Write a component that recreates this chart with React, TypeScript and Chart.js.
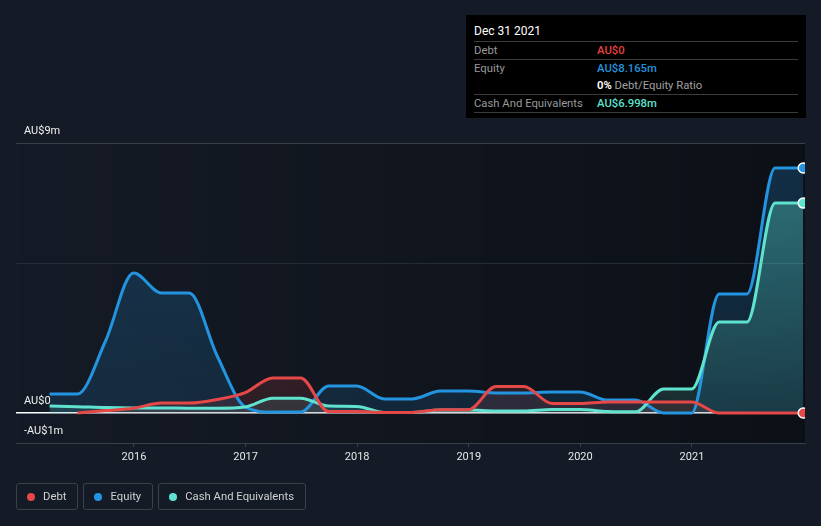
import React, { useEffect, useRef } from 'react';
import { Chart, registerables } from 'chart.js';

Chart.register(...registerables);

const dates = [
  '2015-03-31', '2015-06-30', '2015-09-30', '2015-12-31',
  '2016-03-31', '2016-06-30', '2016-09-30', '2016-12-31',
  '2017-03-31', '2017-06-30', '2017-09-30', '2017-12-31',
  '2018-03-31', '2018-06-30', '2018-09-30', '2018-12-31',
  '2019-03-31', '2019-06-30', '2019-09-30', '2019-12-31',
  '2020-03-31', '2020-06-30', '2020-09-30', '2020-12-31',
  '2021-03-31', '2021-06-30', '2021-09-30', '2021-12-31',
];
const debt: (number | null)[] = [
  null, 0, 0.08, 0.16, 0.33, 0.33, 0.45, 0.68, 1.17, 1.17, 0.05, 0.05, 0.02, 0.02,
  0.11, 0.11, 0.88, 0.88, 0.32, 0.32, 0.37, 0.37, 0.37, 0.37, 0, 0, 0, 0,
];
const equity = [
  0.63, 0.63, 2.4, 4.67, 4.0, 4.0, 1.9, 0.2, 0.03, 0.03, 0.9, 0.9, 0.47, 0.47,
  0.73, 0.73, 0.67, 0.67, 0.7, 0.7, 0.43, 0.43, 0, 0, 3.97, 3.97, 8.165, 8.165,
];
const cash = [
  0.23, 0.21, 0.18, 0.17, 0.17, 0.16, 0.16, 0.2, 0.49, 0.49, 0.23, 0.22, 0.02, 0.02,
  0.1, 0.1, 0.07, 0.07, 0.12, 0.12, 0.05, 0.04, 0.8, 0.8, 3.03, 3.03, 6.998, 6.998,
];
const yTicks = [-1, 0, 5, 9];
const yTickLabels: Record<number, string> = { '-1': '-AU$1m', 0: 'AU$0', 9: 'AU$9m' } as any;
const xTicks = [2016, 2017, 2018, 2019, 2020, 2021];

const COLORS = {
  debt: '#e64848',
  equity: '#2394df',
  cash: '#5fe3ce',
};

function toYear(d: string): number {
  const [y, m, dd] = d.split('-').map(Number);
  const start = Date.UTC(y, 0, 1);
  const end = Date.UTC(y + 1, 0, 1);
  return y + (Date.UTC(y, m - 1, dd) - start) / (end - start);
}

function gradientFill(rgb: string, top: number, bottom: number) {
  return (ctx: any) => {
    const chart = ctx.chart;
    const area = chart.chartArea;
    if (!area) return `rgba(${rgb},${bottom})`;
    const yZero = chart.scales.y.getPixelForValue(0);
    const g = chart.ctx.createLinearGradient(0, area.top, 0, yZero);
    g.addColorStop(0, `rgba(${rgb},${top})`);
    g.addColorStop(1, `rgba(${rgb},${bottom})`);
    return g;
  };
}

const plotBg = {
  id: 'plotBg',
  beforeDraw(chart: any) {
    const { ctx, chartArea } = chart;
    if (!chartArea) return;
    const g = ctx.createLinearGradient(chartArea.left, 0, chartArea.right, 0);
    g.addColorStop(0, 'rgba(0,0,0,0)');
    g.addColorStop(1, 'rgba(0,0,0,0.4)');
    ctx.save();
    ctx.fillStyle = g;
    ctx.fillRect(chartArea.left, chartArea.top, chartArea.right - chartArea.left, chartArea.bottom - chartArea.top);
    ctx.restore();
  },
};

function makeDataset(label: string, values: (number | null)[], color: string, rgb: string, top: number, bottom: number) {
  const last = values.length - 1;
  return {
    label,
    data: values.map((v, i) => ({ x: toYear(dates[i]), y: v })),
    borderColor: color,
    borderWidth: 3,
    backgroundColor: gradientFill(rgb, top, bottom),
    fill: 'origin',
    cubicInterpolationMode: 'monotone' as const,
    spanGaps: false,
    pointRadius: values.map((_, i) => (i === last ? 5 : 0)),
    pointHoverRadius: 0,
    pointBackgroundColor: color,
    pointBorderColor: '#ffffff',
    pointBorderWidth: 1.5,
  };
}

export default function App() {
  const canvasRef = useRef<HTMLCanvasElement | null>(null);

  useEffect(() => {
    if (!canvasRef.current) return;
    const chart = new Chart(canvasRef.current, {
      type: 'line',
      data: {
        datasets: [
          makeDataset('Debt', debt, COLORS.debt, '230,72,72', 0.35, 0.12),
          makeDataset('Cash And Equivalents', cash, COLORS.cash, '95,227,206', 0.4, 0.12),
          makeDataset('Equity', equity, COLORS.equity, '35,148,223', 0.24, 0.14),
        ] as any,
      },
      options: {
        animation: false,
        responsive: false,
        maintainAspectRatio: false,
        events: [],
        layout: { padding: { top: 143, left: 16, right: 16, bottom: 53 } },
        plugins: {
          legend: { display: false },
          tooltip: { enabled: false },
          filler: { drawTime: 'beforeDatasetsDraw' } as any,
        },
        scales: {
          x: {
            type: 'linear',
            min: 2014.943,
            max: 2022.013,
            afterBuildTicks: (scale: any) => {
              scale.ticks = xTicks.map((v) => ({ value: v }));
            },
            afterFit: (scale: any) => {
              scale.height = 30;
            },
            grid: {
              drawOnChartArea: false,
              drawTicks: true,
              tickLength: 4,
              color: '#3a3f48',
            },
            border: { display: true, color: '#3a3f48', width: 1 },
            ticks: {
              color: '#e6e6e6',
              font: { family: 'Roboto', size: 11 },
              padding: 4,
              maxRotation: 0,
              callback: (v: any) => String(v),
            },
          },
          y: {
            type: 'linear',
            min: -1,
            max: 9,
            afterBuildTicks: (scale: any) => {
              scale.ticks = yTicks.map((v) => ({ value: v }));
            },
            afterFit: (scale: any) => {
              scale.width = 0;
            },
            grid: {
              drawTicks: false,
              color: (ctx: any) => {
                const v = ctx.tick?.value;
                if (v === 0) return '#ffffff';
                if (v === 5) return '#262c36';
                return '#3a3f48';
              },
              lineWidth: (ctx: any) => (ctx.tick?.value === 0 ? 1.5 : 1),
            },
            border: { display: false },
            ticks: {
              mirror: true,
              padding: 8,
              labelOffset: -12,
              color: '#f0f0f0',
              font: { family: 'Roboto', size: 11 },
              callback: (v: any) => yTickLabels[v as number] ?? '',
            },
          },
        },
      },
      plugins: [plotBg],
    });
    return () => chart.destroy();
  }, []);

  const font = 'Roboto, "Noto Sans", sans-serif';

  const row = (label: string, value: React.ReactNode, line = true) => (
    <div
      style={{
        display: 'flex',
        alignItems: 'center',
        height: 17,
        borderBottom: line ? '1px solid #3c3c3c' : 'none',
      }}
    >
      <div style={{ width: 123, color: '#9a9a9a' }}>{label}</div>
      <div>{value}</div>
    </div>
  );

  const legendItem = (label: string, color: string) => (
    <div
      style={{
        display: 'flex',
        alignItems: 'center',
        height: 25,
        padding: '0 11px 0 10px',
        border: '1px solid #3b4049',
        borderRadius: 3,
        color: '#d0d0d0',
        fontSize: 11.3,
        boxSizing: 'content-box',
      }}
    >
      <span
        style={{
          width: 8,
          height: 8,
          borderRadius: '50%',
          background: color,
          display: 'inline-block',
          marginRight: 8,
        }}
      />
      {label}
    </div>
  );

  return (
    <div
      style={{
        position: 'absolute',
        left: 0,
        top: 0,
        width: 821,
        height: 526,
        background: '#151b26',
        fontFamily: font,
        overflow: 'hidden',
      }}
    >
      <canvas ref={canvasRef} width={821} height={526} style={{ position: 'absolute', left: 0, top: 0 }} />
      <div
        style={{
          position: 'absolute',
          left: 466,
          top: 15,
          width: 340,
          height: 103,
          background: '#000000',
          boxSizing: 'border-box',
          padding: '0 8px',
          fontSize: 11.3,
        }}
      >
        <div
          style={{
            height: 26,
            lineHeight: '32px',
            color: '#ffffff',
            fontSize: 12,
            borderBottom: '1px solid #3c3c3c',
          }}
        >
          Dec 31 2021
        </div>
        {row('Debt', <span style={{ color: '#e8413f', fontWeight: 500 }}>AU$0</span>)}
        {row('Equity', <span style={{ color: '#2394df', fontWeight: 500 }}>AU$8.165m</span>, false)}
        {row(
          '',
          <span>
            <span style={{ color: '#ffffff', fontWeight: 600 }}>0%</span>
            <span style={{ color: '#a0a0a0' }}> Debt/Equity Ratio</span>
          </span>
        )}
        {row('Cash And Equivalents', <span style={{ color: '#5fe3ce', fontWeight: 500 }}>AU$6.998m</span>)}
      </div>
      <div style={{ position: 'absolute', left: 16, top: 483, display: 'flex', gap: 5 }}>
        {legendItem('Debt', COLORS.debt)}
        {legendItem('Equity', COLORS.equity)}
        {legendItem('Cash And Equivalents', COLORS.cash)}
      </div>
    </div>
  );
}
